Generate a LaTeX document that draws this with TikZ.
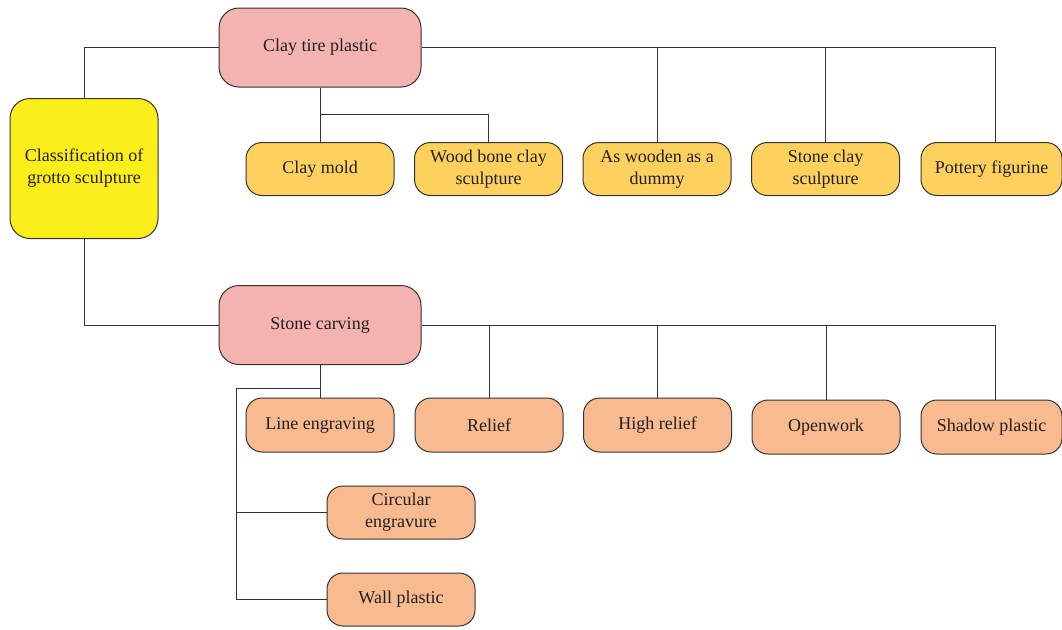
\documentclass[tikz,border=0pt]{standalone}
\usepackage{fontspec}
\setmainfont{Liberation Serif}
\definecolor{pinkbox}{HTML}{F4B3AF}
\definecolor{rootyellow}{HTML}{FCEE1B}
\definecolor{clayyellow}{HTML}{FED15E}
\definecolor{peach}{HTML}{F8BA8F}
\definecolor{txt}{HTML}{231F20}
\definecolor{ln}{HTML}{333333}
\begin{document}
\begin{tikzpicture}[x=1pt,y=-1pt,
  base/.style={draw=ln, line width=1pt, align=center, inner sep=0pt, text=txt,
    font=\fontsize{18}{22}\selectfont},
  rootbox/.style={base, fill=rootyellow, rounded corners=20pt, minimum width=148pt, minimum height=140pt},
  catbox/.style={base, fill=pinkbox, rounded corners=20pt, minimum width=202pt, minimum height=79pt},
  claybox/.style={base, fill=clayyellow, rounded corners=16pt, minimum width=148pt, minimum height=53pt},
  stonebox/.style={base, fill=peach, rounded corners=16pt, minimum width=148pt, minimum height=54pt},
  conn/.style={draw=ln, line width=1pt}]
\useasboundingbox (0,0) rectangle (1062,629);

\node[rootbox] (root) at (84,168.5) {Classification of\\grotto sculpture};
\node[catbox] (clay) at (320,47.5) {Clay tire plastic};
\node[catbox] (stone) at (320,325) {Stone carving};

\node[claybox] (cm) at (320,169) {Clay mold};
\node[claybox] (wb) at (488.5,169) {Wood bone clay\\sculpture};
\node[claybox] (aw) at (657,169) {As wooden as a\\dummy};
\node[claybox] (sc) at (825.5,169) {Stone clay\\sculpture};
\node[claybox, minimum width=141pt] (pf) at (991.5,169) {Pottery figurine};

\node[stonebox] (le) at (320,425) {Line engraving};
\node[stonebox] (re) at (489,425) {Relief};
\node[stonebox] (hr) at (657.5,425) {High relief};
\node[stonebox] (ow) at (826,427) {Openwork};
\node[stonebox, minimum width=141pt] (sp) at (991.5,427) {Shadow plastic};
\node[stonebox, minimum height=53pt] (ce) at (401,512.5) {Circular\\engravure};
\node[stonebox, minimum height=53pt] (wp) at (401,599.5) {Wall plastic};

% root to categories
\draw[conn] (root.north) |- (clay.west);
\draw[conn] (root.south) |- (stone.west);

% clay tire plastic branches
\coordinate (j1) at (320,114);
\draw[conn] (clay.south) -- (cm.north);
\draw[conn] (j1) -| (wb.north);
\coordinate (pftop) at ([xshift=3.5pt]pf.north);
\draw[conn] (clay.east) -| (pftop);
\draw[conn] (aw.north) -- (aw.north |- clay.east);
\draw[conn] (sc.north) -- (sc.north |- clay.east);

% stone carving branches
\coordinate (sptop) at ([xshift=3.5pt]sp.north);
\draw[conn] (stone.east) -| (sptop);
\draw[conn] (re.north) -- (re.north |- stone.east);
\draw[conn] (hr.north) -- (hr.north |- stone.east);
\draw[conn] (ow.north) -- (ow.north |- stone.east);
\coordinate (j2) at (320,388);
\coordinate (j3) at (236,388);
\draw[conn] (stone.south) -- (le.north);
\draw[conn] (j2) -- (j3) |- (wp.west);
\draw[conn] (j3 |- ce.west) -- (ce.west);
\end{tikzpicture}
\end{document}
